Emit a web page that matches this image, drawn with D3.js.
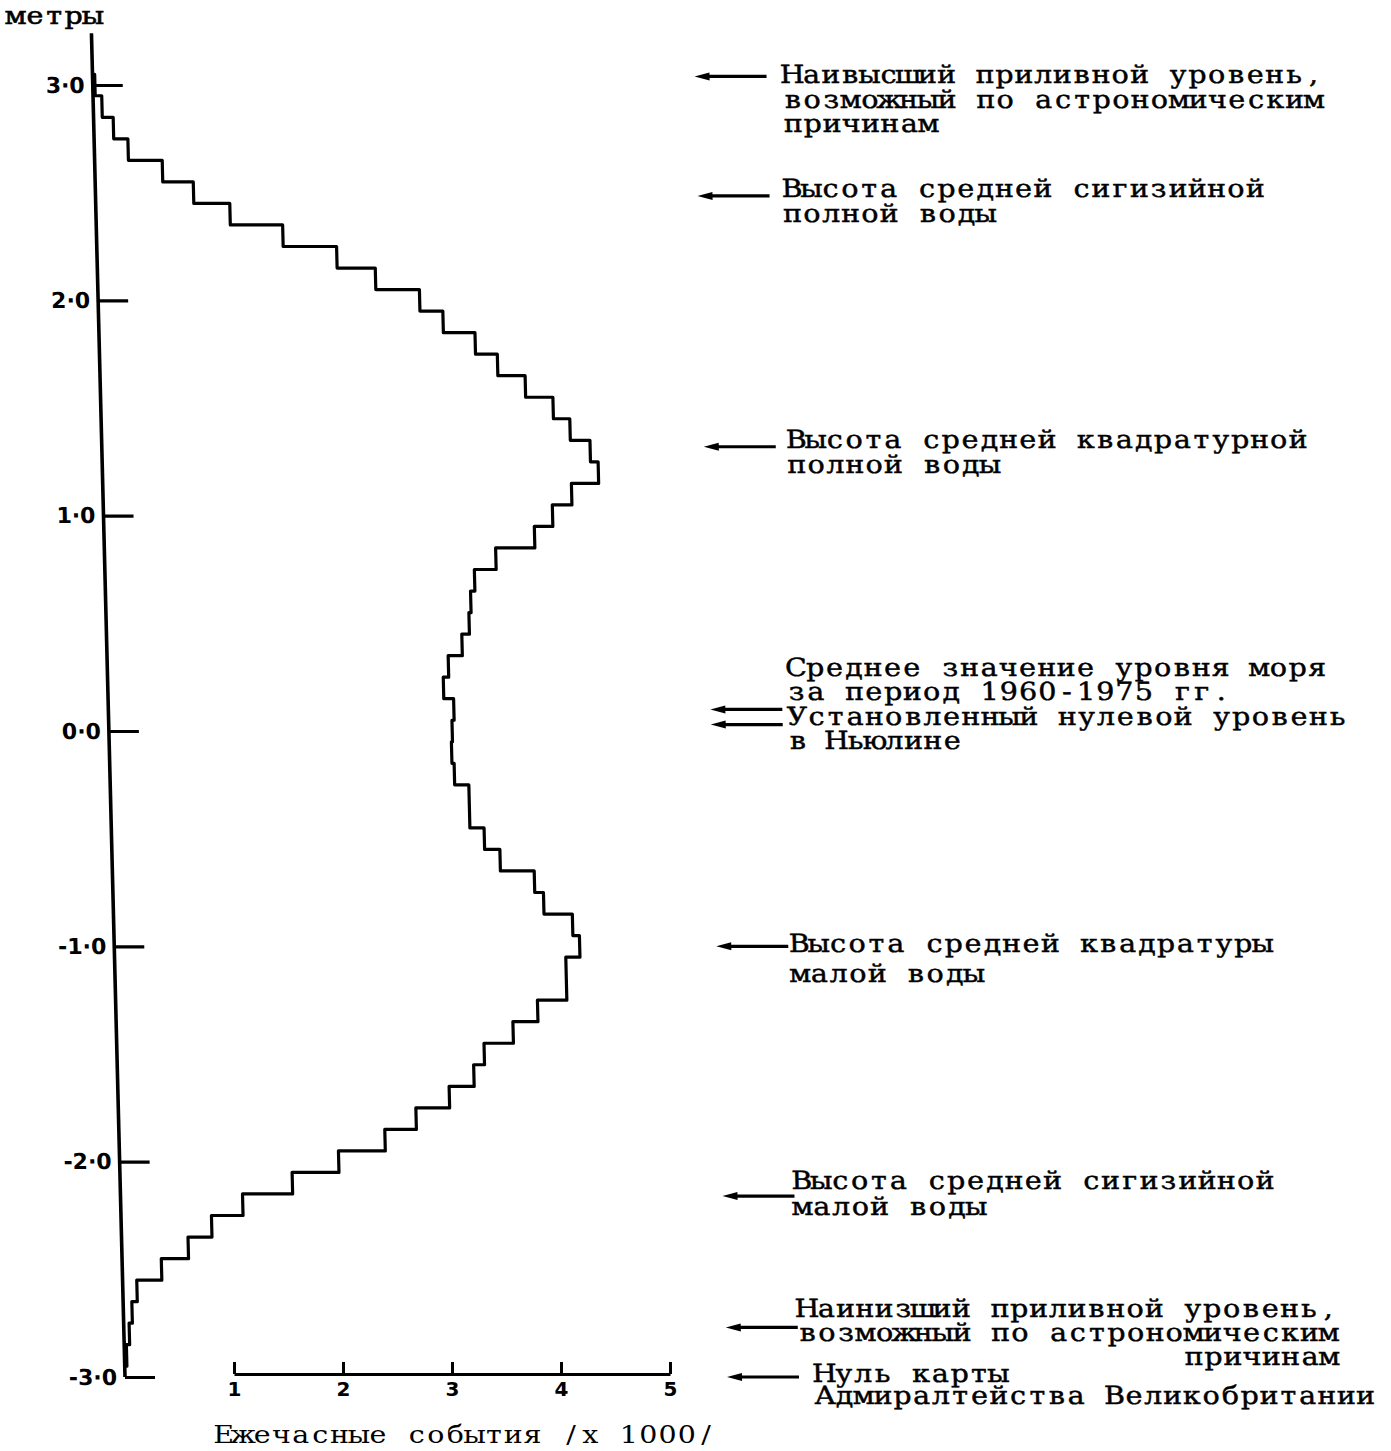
<!DOCTYPE html>
<html>
<head>
<meta charset="utf-8">
<script src="https://cdn.jsdelivr.net/npm/d3@7"></script>
<style>
  body { margin: 0; background: #fff; }
  svg { display: block; }
</style>
</head>
<body>
<svg id="chart" width="1391" height="1451"></svg>
<script>
// Sea level bins (metres, bin centres, 0.1 m wide)
const levels = [
   3.0,  2.9,  2.8,  2.7,  2.6,  2.5,  2.4,  2.3,  2.2,  2.1,
   2.0,  1.9,  1.8,  1.7,  1.6,  1.5,  1.4,  1.3,  1.2,  1.1,
   1.0,  0.9,  0.8,  0.7,  0.6,  0.5,  0.4,  0.3,  0.2,  0.1,
   0.0, -0.1, -0.2, -0.3, -0.4, -0.5, -0.6, -0.7, -0.8, -0.9,
  -1.0, -1.1, -1.2, -1.3, -1.4, -1.5, -1.6, -1.7, -1.8, -1.9,
  -2.0, -2.1, -2.2, -2.3, -2.4, -2.5, -2.6, -2.7, -2.8, -2.9
];

// Hourly occurrences in each bin (thousands)
const hourlyCounts = [
  0.02, 0.08, 0.18, 0.31, 0.62, 0.90, 1.23, 1.71, 2.20, 2.55,
  2.95, 3.16, 3.45, 3.65, 3.90, 4.15, 4.30, 4.48, 4.55, 4.30,
  4.12, 3.95, 3.59, 3.39, 3.35, 3.33, 3.26, 3.13, 3.08, 3.17,
  3.15, 3.14, 3.16, 3.29, 3.29, 3.42, 3.56, 3.87, 3.95, 4.21,
  4.27, 4.14, 4.14, 3.87, 3.64, 3.37, 3.27, 3.04, 2.73, 2.44,
  2.01, 1.58, 1.12, 0.83, 0.61, 0.36, 0.13, 0.08, 0.05, 0.02
];

const levelTicks = [3, 2, 1, 0, -1, -2, -3];
const countTicks = [1, 2, 3, 4, 5];

// Reference tide levels marked on the right (metres)
const noteLevels = [[3.04], [2.485], [1.32], [0.10, 0.03], [-1.0], [-2.16], [-2.77], [-3.0]];
const noteTexts = [
  ["Наивысший приливной уровень,", "возможный по астрономическим", "причинам"],
  ["Высота средней сигизийной", "полной воды"],
  ["Высота средней квадратурной", "полной воды"],
  ["Среднее значение уровня моря", "за период 1960-1975 гг.", "Установленный нулевой уровень", "в Ньюлине"],
  ["Высота средней квадратуры", "малой воды"],
  ["Высота средней сигизийной", "малой воды"],
  ["Наинизший приливной уровень,", "возможный по астрономическим", "причинам"],
  ["Нуль карты", "Адмиралтейства Великобритании"]
];

// ---- layout ----
const yBottom = 1377, yTop = 85;
const svg = d3.select("#chart");

const y = d3.scaleLinear().domain([-3, 3]).range([yBottom, yTop]);
const x = d3.scaleLinear().domain([0, 5]).range([125, 670]);

const typeFace = "'DejaVu Serif', 'Liberation Serif', serif";
const sans = "'DejaVu Sans', 'Liberation Sans', sans-serif";
const ADV = 19.3;      // typewriter character pitch
const WIDEN = 1.14;    // typewriter glyphs are wider than the serif face

// Typewriter-style text: each character centred in a fixed-width cell
function typeText(parent, str, x0, yy, opts = {}) {
  const chars = Array.from(str);
  const xs = chars.map((c, i) => ((ADV * (i + 0.5)) / WIDEN).toFixed(2)).join(" ");
  return parent.append("text")
    .attr("transform", `translate(${x0},${yy}) scale(${WIDEN},1)`)
    .attr("x", xs)
    .attr("y", 0)
    .attr("text-anchor", "middle")
    .attr("font-family", typeFace)
    .attr("font-size", opts.size || 25)
    .attr("fill", "#000")
    .attr("stroke", opts.stroke ? "#000" : "none")
    .attr("stroke-width", opts.stroke || 0)
    .attr("xml:space", "preserve")
    .text(str);
}

// The hand-drawn frame leans slightly to the left towards the top
const lean = 1.43;
const plot = svg.append("g")
  .attr("transform", `translate(0,${yBottom}) skewX(${lean}) translate(0,${-yBottom})`);

// Vertical (level) axis
plot.append("path")
  .attr("d", d3.line()([[x(0), y(3.24)], [x(0), y(-3)]]))
  .attr("fill", "none").attr("stroke", "#000").attr("stroke-width", 3.6);

const yAxis = d3.axisLeft(y)
  .tickValues(levelTicks)
  .tickSizeInner(-30)
  .tickSizeOuter(0)
  .tickPadding(8)
  .tickFormat(d => d.toFixed(1).replace(".", "·"));

const yAxisG = plot.append("g")
  .attr("transform", `translate(${x(0)},0)`)
  .call(yAxis);
yAxisG.select(".domain").remove();
yAxisG.selectAll(".tick line").attr("stroke", "#000").attr("stroke-width", 3.2);
yAxisG.selectAll(".tick text")
  .attr("font-family", sans).attr("font-weight", "bold")
  .attr("font-size", 22).attr("fill", "#000");

// Stepped outline of the level histogram
const pts = [[0, levels[0] + 0.05]];
levels.forEach((lv, i) => {
  pts.push([hourlyCounts[i], lv + 0.05]);
  pts.push([hourlyCounts[i], lv - 0.05]);
});
pts.push([0, levels[levels.length - 1] - 0.05]);

plot.append("path")
  .attr("d", d3.line().x(d => x(d[0])).y(d => y(d[1]))(pts))
  .attr("fill", "none")
  .attr("stroke", "#000")
  .attr("stroke-width", 3.2)
  .attr("stroke-linejoin", "round");

// Annotations with arrows pointing at the axis levels
const arrowHead = 727, arrowTail = 799;
const noteLayout = [
  { dx: 16,  dy: 7,     lead: 24.5 },
  { dx: 13,  dy: 1,     lead: 25 },
  { dx: 11,  dy: 1,     lead: 25 },
  { dx: 5,   dy: -33.5, lead: 24.5 },
  { dx: 1.5, dy: 6,     lead: 30 },
  { dx: -2,  dy: -7,    lead: 26 },
  { dx: 0,   dy: -10.5, lead: 24 },
  { dx: 16,  dy: 5,     lead: 22 }
];

const notesG = plot.append("g");
noteTexts.forEach((lines, k) => {
  const lay = noteLayout[k];
  noteLevels[k].forEach(lv => {
    const yy = y(lv);
    notesG.append("path")
      .attr("d", d3.line()([[arrowHead + 10, yy], [arrowTail, yy]]))
      .attr("stroke", "#000").attr("stroke-width", 3.2).attr("fill", "none");
    notesG.append("path")
      .attr("d", d3.line()([[arrowHead, yy], [arrowHead + 15, yy - 4], [arrowHead + 15, yy + 4]]) + "Z")
      .attr("fill", "#000");
  });
  const x0 = arrowTail + lay.dx;
  const y0 = y(noteLevels[k][0]) + lay.dy;
  lines.forEach((t, i) => {
    let xs = x0;
    // last line of the lowest-water note sits flush right under the line above
    if (k === 6 && i === 2) xs = x0 + ADV * (Array.from(lines[1]).length - Array.from(t).length);
    typeText(notesG, t, xs, y0 + i * lay.lead, { stroke: 0.45 });
  });
});

// Horizontal (count) scale bar
const xBar = x.copy().domain([1, 5]).range([x(1), x(5)]);
const xAxis = d3.axisBottom(xBar)
  .tickValues(countTicks)
  .tickSizeInner(-12)
  .tickSizeOuter(0)
  .tickPadding(8)
  .tickFormat(d3.format("d"));
const xAxisG = svg.append("g")
  .attr("transform", `translate(0,${yBottom - 3})`)
  .call(xAxis);
xAxisG.select(".domain").attr("stroke", "#000").attr("stroke-width", 3.2);
xAxisG.selectAll(".tick line").attr("stroke", "#000").attr("stroke-width", 3);
xAxisG.selectAll(".tick text")
  .attr("font-family", sans).attr("font-weight", "bold")
  .attr("font-size", 20).attr("fill", "#000");

// Axis titles
typeText(svg, "метры", 6, 24, { stroke: 0.6 });
typeText(svg, "Ежечасные события /х 1000/", 214, 1443, { stroke: 0 });
</script>
</body>
</html>
